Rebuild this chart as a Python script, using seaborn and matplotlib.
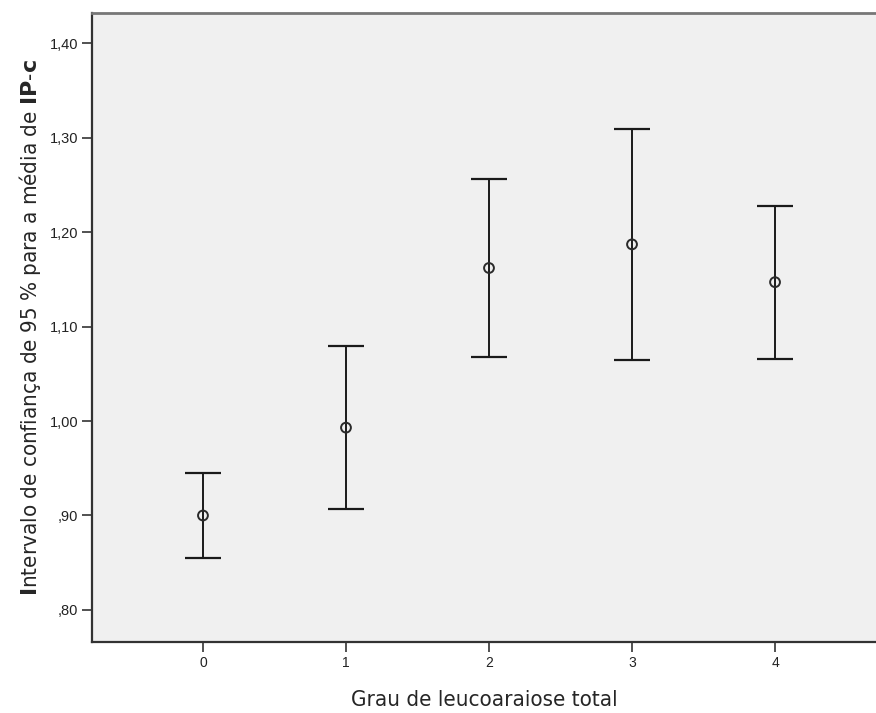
import pandas as pd
import seaborn as sns
import matplotlib.pyplot as plt

# Means and 95% CI
grades = [0, 1, 2, 3, 4]
means = [0.900, 0.993, 1.162, 1.187, 1.147]
ci_low = [0.855, 0.907, 1.068, 1.065, 1.066]
ci_high = [0.945, 1.079, 1.256, 1.309, 1.228]

y_ticks = [0.80, 0.90, 1.00, 1.10, 1.20, 1.30, 1.40]
y_tick_labels = [',80', ',90', '1,00', '1,10', '1,20', '1,30', '1,40']

df = pd.DataFrame({'grau': grades, 'media': means, 'lo': ci_low, 'hi': ci_high})

sns.set_style('white')
plt.rcParams['font.family'] = ['DejaVu Sans']
plt.rcParams['mathtext.fontset'] = 'dejavusans'

fig = plt.figure(figsize=(8.76, 7.13), dpi=100)
ax = fig.add_axes([0.105, 0.100, 0.895, 0.882])
ax.set_facecolor('#f0f0f0')

# Confidence interval whiskers with caps
ax.errorbar(df['grau'], df['media'],
            yerr=[df['media'] - df['lo'], df['hi'] - df['media']],
            fmt='none', ecolor='#1a1a1a', elinewidth=1.4,
            capsize=13, capthick=1.6, zorder=2)

# Hollow circle at the mean
sns.scatterplot(data=df, x='grau', y='media', ax=ax, marker='o', s=50,
                facecolor='none', edgecolor='#2a2a2a', linewidth=1.4, zorder=3)

ax.set_xlim(-0.776, 4.706)
ax.set_ylim(0.7664, 1.4321)
ax.set_xticks(grades)
ax.set_xticklabels([str(g) for g in grades], fontsize=10, color='#222222',
                   family='Liberation Sans')
ax.set_yticks(y_ticks)
ax.set_yticklabels(y_tick_labels, fontsize=10.5, color='#222222',
                   family='Liberation Sans')
ax.tick_params(axis='both', direction='out', length=7, width=1.2,
               color='#333333', pad=3, left=True, bottom=True)

for side in ['left', 'bottom']:
    ax.spines[side].set_color('#333333')
    ax.spines[side].set_linewidth(1.6)
ax.spines['top'].set_color('#777777')
ax.spines['top'].set_linewidth(2)
ax.spines['right'].set_visible(False)

ax.set_xlabel('Grau de leucoaraiose total', fontsize=16, fontstretch='condensed',
              labelpad=15)
ax.set_ylabel(r'$\mathbf{I}$ntervalo de confiança de 95 % para a média de $\mathbf{IP}$-$\mathbf{c}$',
              fontsize=16, fontstretch='condensed', labelpad=5)

plt.savefig('out.png', dpi=100)
